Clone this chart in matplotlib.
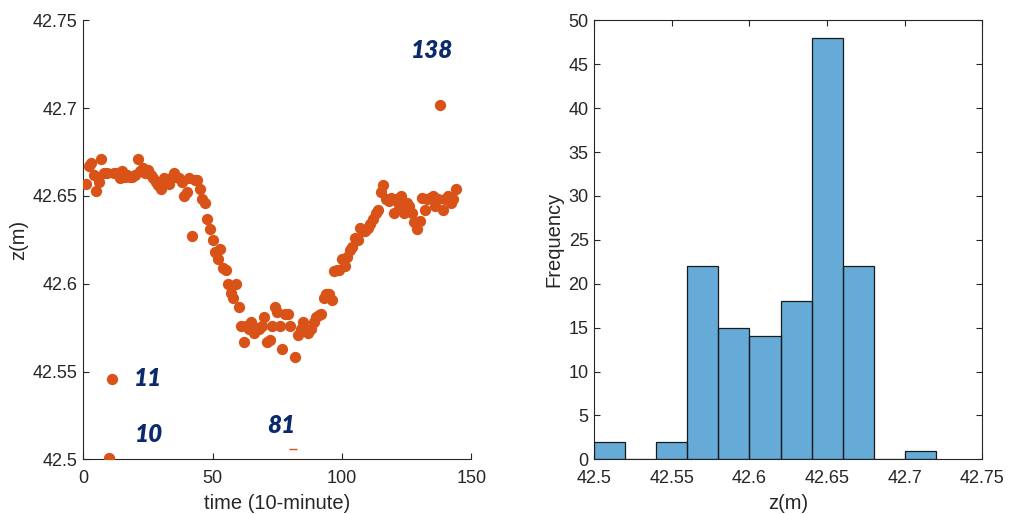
import numpy as np
import matplotlib
matplotlib.use("Agg")
import matplotlib.pyplot as plt

# z (m) for each 10-minute sample
z_vals = [
    42.657, 42.667, 42.669, 42.662, 42.653, 42.658, 42.671, 42.663, 42.663, 42.501,
    42.546, 42.663, 42.663, 42.660, 42.664, 42.661, 42.662, 42.661, 42.661, 42.662,
    42.671, 42.664, 42.666, 42.663, 42.665, 42.662, 42.660, 42.658, 42.656, 42.654,
    42.660, 42.658, 42.657, 42.660, 42.663, 42.661, 42.660, 42.658, 42.650, 42.652,
    42.660, 42.627, 42.659, 42.659, 42.654, 42.648, 42.646, 42.637, 42.631, 42.625,
    42.618, 42.614, 42.620, 42.609, 42.608, 42.600, 42.595, 42.592, 42.600, 42.587,
    42.576, 42.567, 42.576, 42.574, 42.578, 42.572, 42.575, 42.574, 42.576, 42.581,
    42.567, 42.568, 42.576, 42.587, 42.584, 42.576, 42.563, 42.583, 42.583, 42.576,
    42.506, 42.558, 42.571, 42.574, 42.578, 42.573, 42.572, 42.574, 42.578, 42.581,
    42.582, 42.583, 42.592, 42.594, 42.594, 42.591, 42.607, 42.608, 42.608, 42.614,
    42.610, 42.615, 42.619, 42.621, 42.626, 42.625, 42.632, 42.630, 42.630, 42.632,
    42.634, 42.637, 42.640, 42.642, 42.652, 42.656, 42.648, 42.647, 42.649, 42.640,
    42.648, 42.645, 42.650, 42.640, 42.646, 42.644, 42.640, 42.635, 42.631, 42.636,
    42.649, 42.642, 42.648, 42.649, 42.650, 42.644, 42.648, 42.702, 42.642, 42.648,
    42.650, 42.646, 42.648, 42.654,
]
t_vals = list(range(1, len(z_vals) + 1))

# outlier samples that get a number written next to them
outlier_ids = [10, 11, 81, 138]
hidden_id = 81  # only a sliver of this one shows in the original

# histogram of z
bin_edges = [42.50, 42.52, 42.54, 42.56, 42.58, 42.60, 42.62, 42.64, 42.66, 42.68, 42.70, 42.72]
bin_counts = [2, 0, 2, 22, 15, 14, 18, 48, 22, 0, 1]

dot_color = "#D95319"
label_color = "#0B2A6B"
axis_color = "#262626"
hist_color = "#66AAD7"

plt.rcParams["font.family"] = ["Liberation Sans", "DejaVu Sans"]
plt.rcParams["axes.edgecolor"] = axis_color
plt.rcParams["xtick.color"] = axis_color
plt.rcParams["ytick.color"] = axis_color

fig = plt.figure(figsize=(10.09, 5.14), dpi=100)
ax1 = fig.add_axes([0.0826, 0.1064, 0.3845, 0.854])
ax2 = fig.add_axes([0.589, 0.1064, 0.3845, 0.854])

# --- left: time series scatter
t = np.array(t_vals)
z = np.array(z_vals)
shown = t != hidden_id
ax1.scatter(t[shown], z[shown], s=66, color=dot_color, linewidths=0, zorder=3)
ax1.scatter(t[~shown], z[~shown], s=30, marker="_", color=dot_color,
            linewidths=1.0, zorder=3)

label_pos = {10: (25.5, 42.514), 11: (25.1, 42.546), 81: (76.5, 42.519), 138: (134.8, 42.733)}
for k in outlier_ids:
    lx, ly = label_pos[k]
    ax1.text(lx, ly, str(k), family=["Lato", "DejaVu Sans"], fontweight="heavy",
             fontstyle="italic", fontsize=17.5, color=label_color,
             ha="center", va="center")

ax1.set_xlim(0, 150)
ax1.set_ylim(42.5, 42.75)
ax1.set_xticks([0, 50, 100, 150])
ax1.set_yticks([42.5, 42.55, 42.6, 42.65, 42.7, 42.75])
ax1.set_yticklabels(["42.5", "42.55", "42.6", "42.65", "42.7", "42.75"])
ax1.spines["top"].set_visible(False)
ax1.spines["right"].set_visible(False)
ax1.tick_params(direction="in", length=4, width=0.8, labelsize=13)
ax1.tick_params(axis="x", pad=8)
ax1.tick_params(axis="y", pad=4)
ax1.set_xlabel("time (10-minute)", fontsize=14.5, color=axis_color, labelpad=5)
ax1.set_ylabel("z(m)", fontsize=14.5, color=axis_color, labelpad=3)

# --- right: histogram of z
ax2.stairs(bin_counts, bin_edges, fill=True, color=hist_color, zorder=2)
ax2.bar(bin_edges[:-1], bin_counts, width=np.diff(bin_edges), align="edge",
        facecolor="none", edgecolor="#1a1a1a", linewidth=0.9, zorder=3)

ax2.set_xlim(42.5, 42.75)
ax2.set_ylim(0, 50)
ax2.set_xticks([42.5, 42.55, 42.6, 42.65, 42.7, 42.75])
ax2.set_xticklabels(["42.5", "42.55", "42.6", "42.65", "42.7", "42.75"])
ax2.set_yticks(range(0, 51, 5))
ax2.tick_params(direction="in", length=4, width=0.8, labelsize=13,
                top=True, right=True)
ax2.tick_params(axis="x", pad=8)
ax2.tick_params(axis="y", pad=4)
ax2.set_xlabel("z(m)", fontsize=14.5, color=axis_color, labelpad=5)
ax2.set_ylabel("Frequency", fontsize=14.5, color=axis_color, labelpad=4)

fig.savefig("out.png", dpi=100)
